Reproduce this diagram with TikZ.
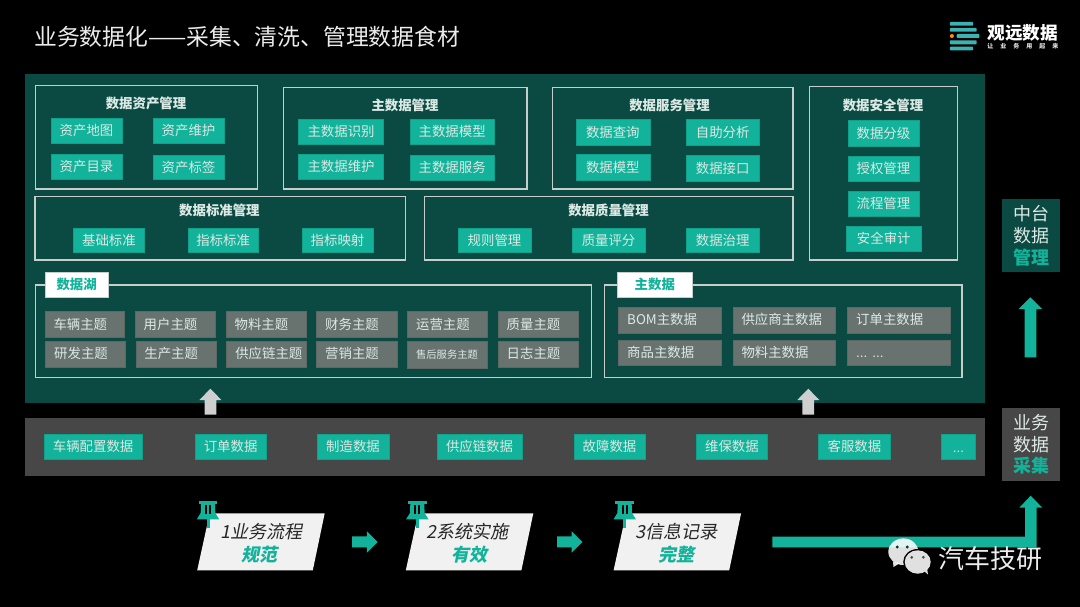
\documentclass[tikz,border=0pt]{standalone}
\usepackage{fontspec}
\setmainfont{Noto Sans CJK SC}
\newfontfamily\slantfont[FakeSlant=0.2]{Noto Sans CJK SC}
\newfontfamily\dotfont{Liberation Sans}
\definecolor{teal1}{HTML}{12B39A}
\definecolor{panelgreen}{HTML}{0B4A42}
\definecolor{bandgray}{HTML}{474747}
\definecolor{graybox}{HTML}{68736F}
\definecolor{outl}{HTML}{C6CECB}
\definecolor{txt}{HTML}{DCE9E5}
\definecolor{logoteal}{HTML}{3DB2B2}
\definecolor{arrowgray}{HTML}{CFCFCF}
\definecolor{parafill}{HTML}{F1F1F1}
\tikzset{
  tealbox/.style={fill=teal1,draw=teal1!90!black,line width=.3pt,inner sep=0pt,text=txt,font=\fontsize{13.4}{16}\selectfont},
  graytile/.style={fill=graybox,draw=graybox!90!black,line width=.3pt,inner sep=0pt,text=txt,font=\fontsize{13.4}{16}\selectfont},
  frame/.style={draw=outl,line width=1.3pt,inner sep=0pt},
  headline/.style={text=txt,inner sep=0pt,font=\fontsize{13.4}{16}\selectfont\bfseries},
  tabbox/.style={fill=white,draw=outl,line width=.5pt,inner sep=0pt,text=teal1,font=\fontsize{13.4}{16}\selectfont\bfseries},
  sidebox/.style={inner sep=0pt,align=center,text=txt,font=\fontsize{18}{21.8}\selectfont},
  paratext/.style={inner sep=0pt,text=black!85,font=\fontsize{18}{20}\slantfont},
  paraword/.style={inner sep=0pt,text=teal1,font=\fontsize{18}{20}\slantfont\bfseries},
}
% name, x1, y1, x2, y2, text
\newcommand\tb[6]{\node[tealbox,minimum width={(#4-#2)*1pt},minimum height={(#5-#3)*1pt}] (#1) at ({(#2+#4)/2},{(#3+#5)/2}) {#6};}
\newcommand\fr[5]{\node[frame,minimum width={(#4-#2)*1pt},minimum height={(#5-#3)*1pt}] (#1) at ({(#2+#4)/2},{(#3+#5)/2}) {};}
\newcommand\gt[6]{\node[graytile,minimum width={(#4-#2)*1pt},minimum height={(#5-#3)*1pt}] (#1) at ({(#2+#4)/2},{(#3+#5)/2}) {};
  \node[inner sep=0pt,anchor=west,text=txt,font=\fontsize{13.4}{16}\selectfont] (#1t) at ({#2+8.5},{(#3+#5)/2}) {#6};}
\newcommand\upblock[6]{% x, tip, headbase, bottom, headhalf, colour
  \fill[#6] (#1,#2) -- ({#1+#5},#3) -- ({#1+5.9},#3) -- ({#1+5.9},#4) -- ({#1-5.9},#4) -- ({#1-5.9},#3) -- ({#1-#5},#3) -- cycle;}
\newcommand\rightblock[1]{%
  \fill[teal1] (#1,536.3) -- ({#1+14.6},536.3) -- ({#1+14.6},531.3) -- ({#1+25.3},542) -- ({#1+14.6},552.7) -- ({#1+14.6},547.3) -- (#1,547.3) -- cycle;}
\newcommand\para[1]{%
  \fill[parafill] (#1,570.3) -- ({#1+12.5},513.3) -- ({#1+127.5},513.3) -- ({#1+115.6},570.3) -- cycle;}
\newcommand\pin[1]{%
  \fill[teal1] ({#1-9.3},501) rectangle ({#1+9.3},504);
  \fill[teal1] ({#1-7},504) -- ({#1+7},504) -- ({#1+7.3},513) -- ({#1+11.2},519.3) -- ({#1-11.2},519.3) -- ({#1-7.3},513) -- cycle;
  \fill[teal1] ({#1-1.5},519) rectangle ({#1+1.5},528.3);
  \fill[black] ({#1-3},505) rectangle ({#1-1},514);
  \fill[black] ({#1+1},505) rectangle ({#1+3},514);}
\begin{document}
\begin{tikzpicture}[x=1pt,y=-1pt]
\fill[black] (0,0) rectangle (1080,607);
\useasboundingbox (0,0) rectangle (1080,607);
% title
\node[anchor=west,inner sep=0pt,text=white!92!black,font=\fontsize{22.8}{26}\selectfont] (title) at (34,36.7) {业务数据化——采集、清洗、管理数据食材};
% logo
\foreach \a/\b/\c/\d in {949.8/22/973.2/25.7,949.8/28/976.6/31.7,956.7/34/979.4/38,949.8/40.3/976.6/44.3,949.8/46.7/973.2/50.3}
  \fill[logoteal,rounded corners=.8pt] (\a,\b) rectangle (\c,\d);
\fill[orange!90!yellow] (951.9,36) circle (2);
\node[inner sep=0pt,text=white,font=\fontsize{17.6}{20}\selectfont\bfseries] (logoname) at (1022.8,32.5) {观远数据};
\node[inner sep=0pt,text=white!90!black,font=\fontsize{6}{7}\selectfont\bfseries] (logosub) at (1022.8,46.7) {\makebox[71pt][s]{让\hfill 业\hfill 务\hfill 用\hfill 起\hfill 来}};
% panels
\fill[panelgreen] (24.5,74) rectangle (985,403);
\node[fill=bandgray,inner sep=0pt,minimum width=960.5pt,minimum height=57.5pt] (band) at (504.75,446.75) {};
% asset
\fr{fa}{35.5}{85.5}{257.6}{189}
\node[headline] (ha) at (146,103.7) {数据资产管理};
\tb{a1}{51}{118}{122}{143}{资产地图}
\tb{a2}{153}{118}{224}{143}{资产维护}
\tb{a3}{51}{153.7}{122}{178.7}{资产目录}
\tb{a4}{153}{154.7}{224}{179.5}{资产标签}
% master mgmt
\fr{fb}{283.4}{87.3}{526.9}{189}
\node[headline] (hb) at (405,105.7) {主数据管理};
\tb{b1}{298.5}{119}{383.6}{144.3}{主数据识别}
\tb{b2}{409.8}{119}{494.5}{144.3}{主数据模型}
\tb{b3}{298.5}{154}{383.6}{179.3}{主数据维护}
\tb{b4}{409.8}{155}{494.5}{180.3}{主数据服务}
% service
\fr{fc}{552.7}{87.3}{793}{189}
\node[headline] (hc) at (669.5,105.7) {数据服务管理};
\tb{c1}{575.8}{119}{649.8}{145}{数据查询}
\tb{c2}{686}{119}{759.4}{145}{自助分析}
\tb{c3}{575.8}{154}{649.8}{180.3}{数据模型}
\tb{c4}{686}{155}{759.4}{181}{数据接口}
% security
\fr{fd}{809.3}{86.7}{957.7}{260}
\node[headline] (hd) at (883,105) {数据安全管理};
\tb{d1}{847.9}{120.3}{919}{145.7}{数据分级}
\tb{d2}{847.9}{155.7}{919}{180.7}{授权管理}
\tb{d3}{847.9}{191}{919}{216}{流程管理}
\tb{d4}{846}{226}{921.5}{250.7}{安全审计}
% standard
\fr{fe}{35}{196.3}{405.3}{260}
\node[headline] (he) at (219.4,210) {数据标准管理};
\tb{e1}{73.3}{228}{144.6}{252.3}{基础标准}
\tb{e2}{187.7}{228}{258.6}{252.3}{指标标准}
\tb{e3}{302}{228}{373}{252.3}{指标映射}
% quality
\fr{ff}{424.6}{196.3}{793}{260}
\node[headline] (hf) at (608.5,210) {数据质量管理};
\tb{f1}{458}{228}{531}{252.3}{规则管理}
\tb{f2}{571.7}{228}{645.4}{252.3}{质量评分}
\tb{f3}{686}{228}{759.4}{252.3}{数据治理}
% lake
\fr{fl}{35.5}{285}{591.7}{377.7}
\node[tabbox,minimum width=63.7pt,minimum height=25pt] (tl) at (76.6,284.8) {数据湖};
\gt{l1}{44.8}{311.3}{124.3}{337.3}{车辆主题}
\gt{l2}{135}{311.3}{214.9}{337.3}{用户主题}
\gt{l3}{225.9}{311.3}{306}{337.3}{物料主题}
\gt{l4}{316.5}{311.3}{396.7}{337.3}{财务主题}
\gt{l5}{407.4}{311.3}{487.3}{337.3}{运营主题}
\gt{l6}{498}{311.3}{577.9}{337.3}{质量主题}
\gt{m1}{45.5}{340.7}{125.3}{366.7}{研发主题}
\gt{m2}{135.7}{340.7}{215.9}{366.7}{生产主题}
\gt{m3}{226.6}{340.7}{306.5}{366.7}{供应链主题}
\gt{m4}{316.5}{340.7}{396.7}{366.7}{营销主题}
\gt{m5}{407.4}{340.7}{487.3}{367.7}{\fontsize{10.3}{12}\selectfont 售后服务主题}
\gt{m6}{498}{340.7}{577.9}{366.7}{日志主题}
% master data
\fr{fm}{604.4}{285}{962}{377.7}
\node[tabbox,minimum width=75.5pt,minimum height=25pt] (tm) at (654.8,284.8) {主数据};
\gt{n1}{618.5}{306.7}{721}{332.7}{BOM主数据}
\gt{n2}{732.8}{306.7}{835.5}{332.7}{供应商主数据}
\gt{n3}{847.5}{306.7}{950}{332.7}{订单主数据}
\gt{n4}{618.5}{339.7}{721}{365.3}{商品主数据}
\gt{n5}{732.8}{339.7}{835.5}{365.3}{物料主数据}
\gt{n6}{847.5}{339.7}{950}{365.3}{\vphantom{主}{\dotfont ... ...}}
% band tiles
\tb{s1}{44}{434.3}{142.2}{459.3}{车辆配置数据}
\tb{s2}{195}{434.3}{266.2}{459.3}{订单数据}
\tb{s3}{317}{434.3}{389}{459.3}{制造数据}
\tb{s4}{437}{434.3}{522}{459.3}{供应链数据}
\tb{s5}{574}{434.3}{645}{459.3}{故障数据}
\tb{s6}{696.3}{434.3}{767.6}{459.3}{维保数据}
\tb{s7}{818.6}{434.3}{890.2}{459.3}{客服数据}
\tb{s8}{941.5}{434.3}{975.3}{459.3}{\vphantom{主}{\dotfont ...}}
% gray arrows
\upblock{210.4}{388.7}{400}{414.7}{11}{arrowgray}
\upblock{808.3}{388.7}{400}{414.7}{11}{arrowgray}
% side boxes
\node[sidebox,fill=panelgreen,minimum width=57.1pt,minimum height=73.3pt] (side1) at (1031,235.6) {中台\\数据\\\textcolor{teal1}{\bfseries 管理}};
\node[sidebox,fill=bandgray,minimum width=57.1pt,minimum height=73.3pt] (side2) at (1031,444.3) {业务\\数据\\\textcolor{teal1}{\bfseries 采集}};
\upblock{1030.4}{297.3}{309}{357.3}{11.7}{teal1}
% process cards
\para{197.2}\para{405.8}\para{613.6}
\pin{208}\pin{417.3}\pin{624.7}
\node[paratext] (p1) at (261.5,531.7) {1业务流程};
\node[paraword] (q1) at (259.6,554.3) {规范};
\node[paratext] (p2) at (467.8,531.7) {2系统实施};
\node[paraword] (q2) at (469,554.3) {有效};
\node[paratext] (p3) at (676.7,531.7) {3信息记录};
\node[paraword] (q3) at (676.7,554.3) {完整};
\rightblock{352.2}\rightblock{557}
% long arrow
\fill[teal1] (772.3,536.7) -- (1025,536.7) -- (1025,507.7) -- (1019.3,507.7) -- (1030.7,495.7) -- (1042.3,507.7) -- (1036.7,507.7) -- (1036.7,547.3) -- (772.3,547.3) -- cycle;
% watermark
\fill[white,opacity=.88] (903.3,551.7) ellipse (15 and 13.3);
\fill[white,opacity=.88] (893,562) -- (893.5,567) -- (900,563) -- cycle;
\fill[black] (917.7,562) ellipse (14.5 and 13);
\fill[white!88!black] (917.7,562) ellipse (13 and 11.7);
\fill[white!88!black] (924,571) -- (928,574.5) -- (927,568) -- cycle;
\fill[panelgreen!70!black] (897.3,547) circle (1.6) (907.3,547) circle (1.6);
\fill[black!70] (911.7,557.3) circle (1.5) (923.3,557.3) circle (1.5);
\node[inner sep=0pt,text=white!93!black,font=\fontsize{26}{30}\selectfont] (wm) at (990.7,559) {汽车技研};
\end{tikzpicture}
\end{document}
